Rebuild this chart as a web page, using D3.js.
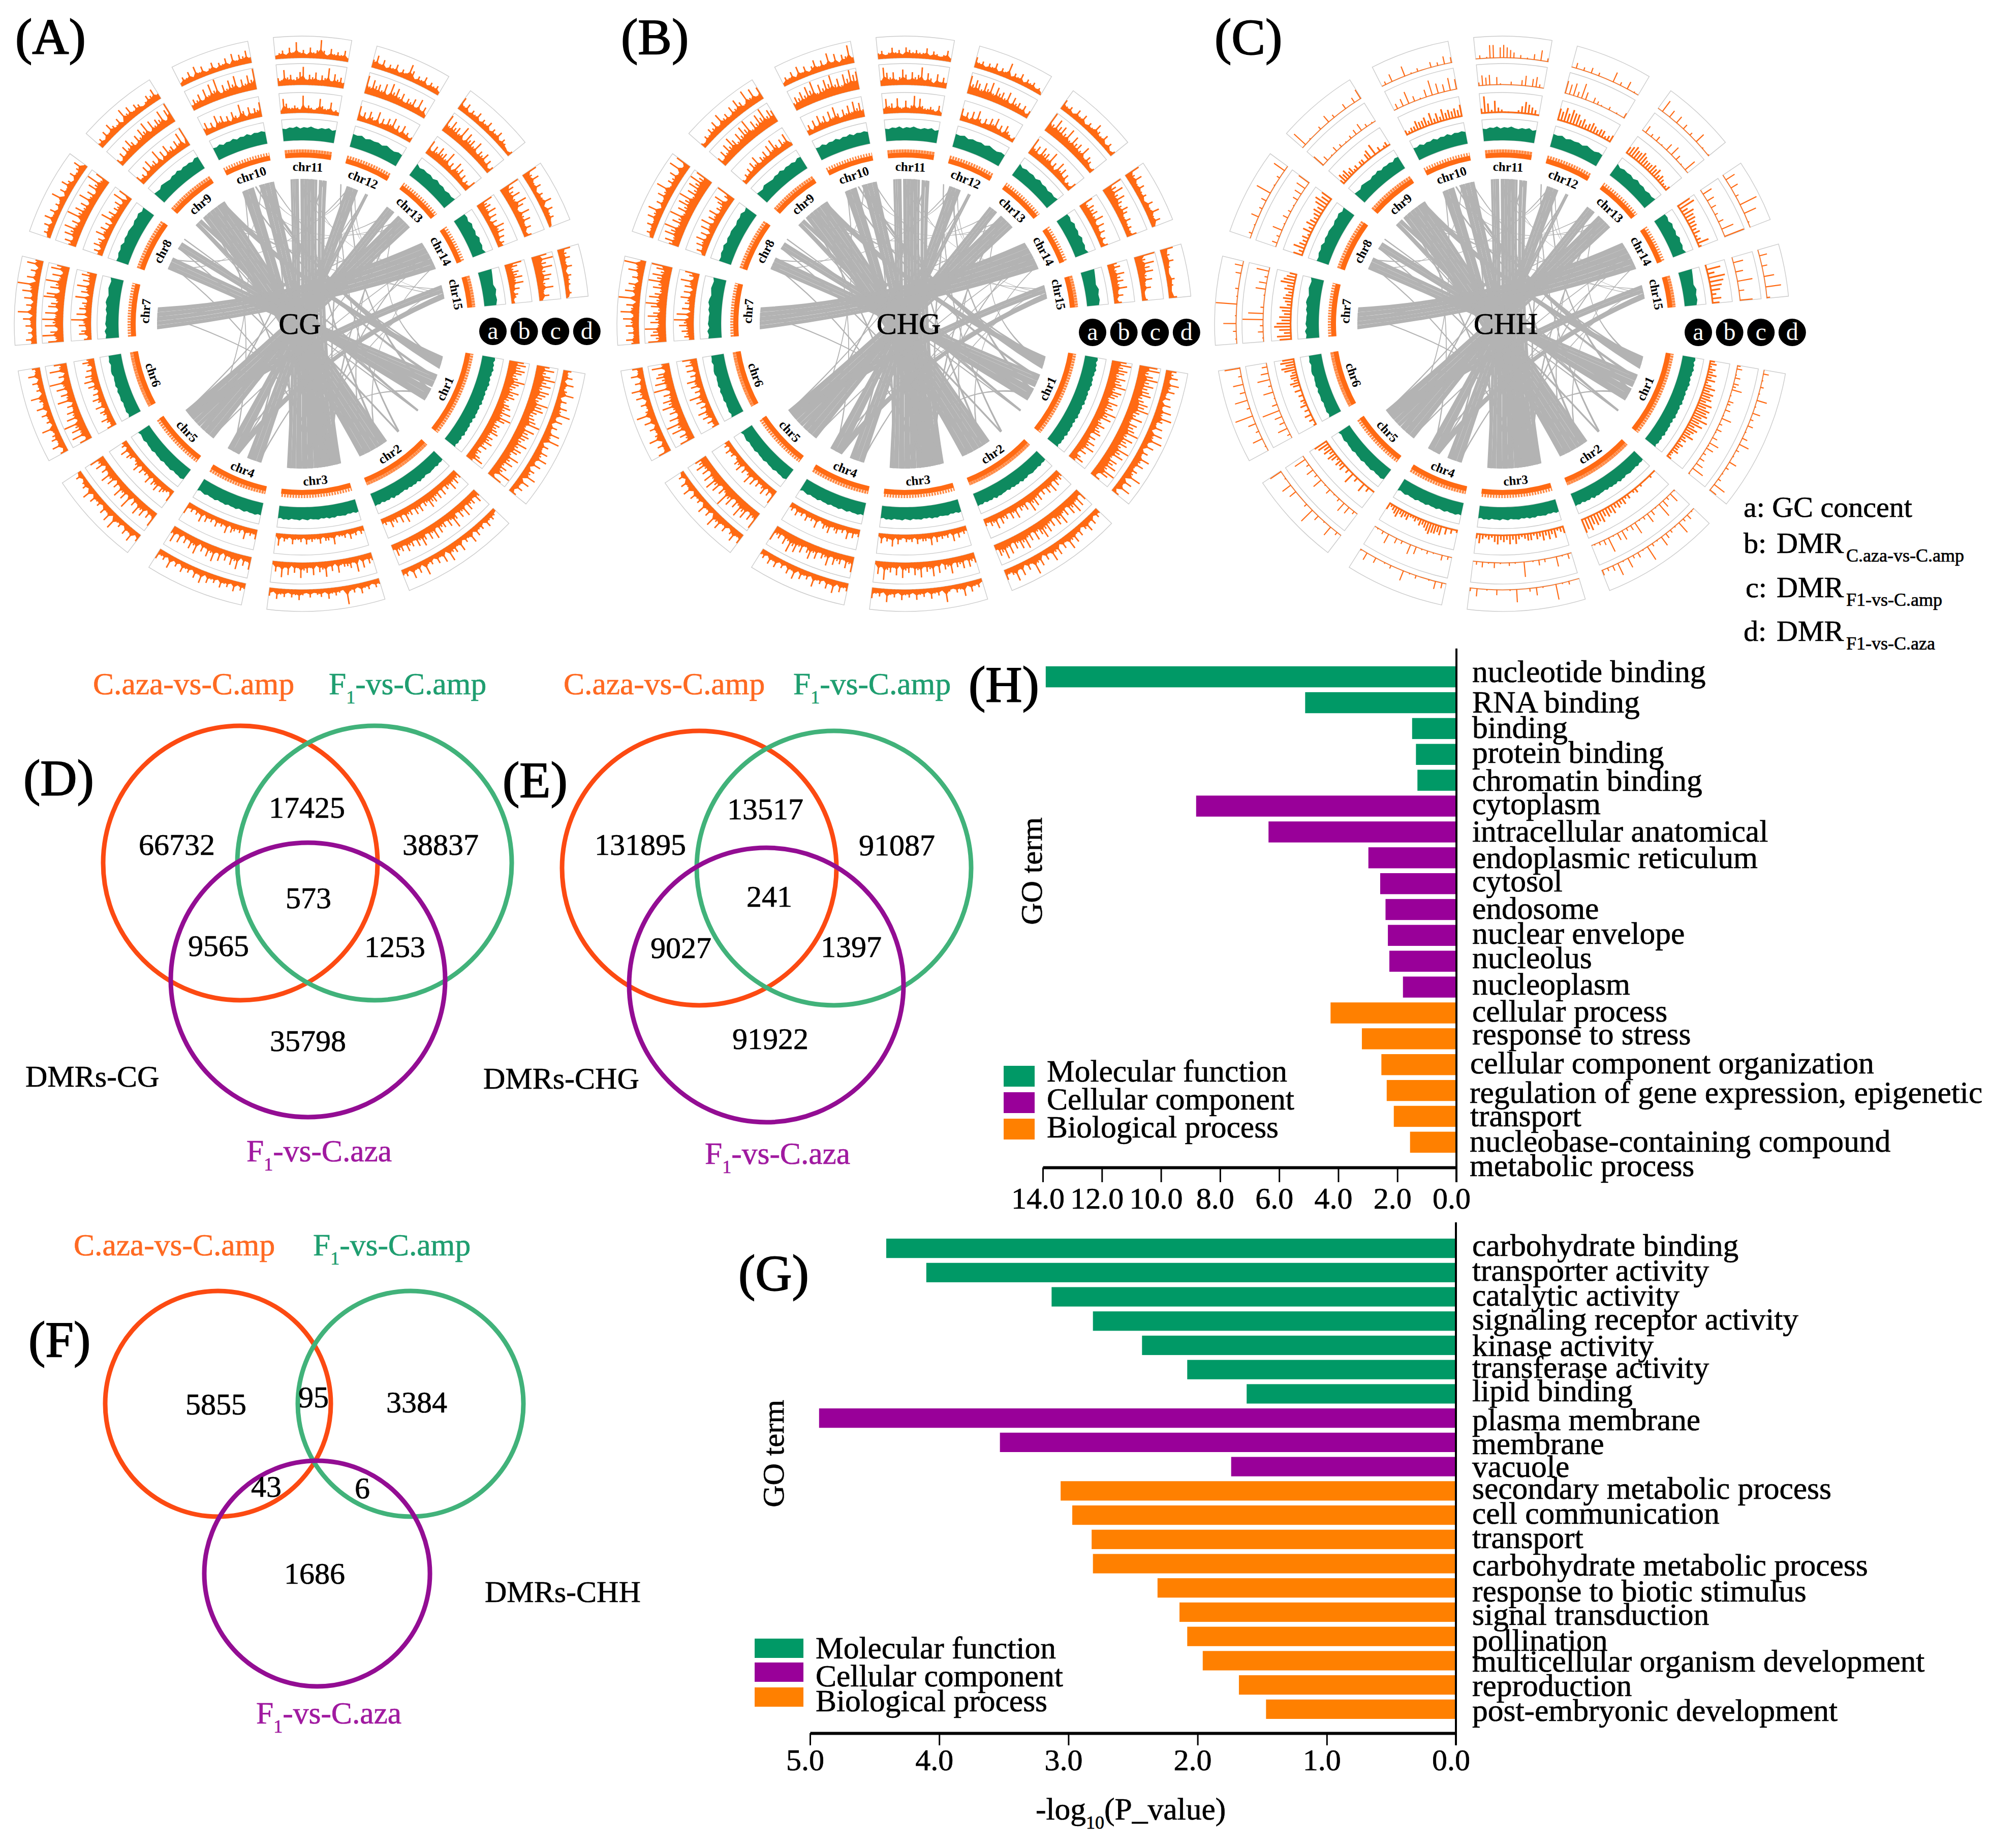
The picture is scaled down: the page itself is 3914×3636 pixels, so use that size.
<!DOCTYPE html>
<html><head><meta charset="utf-8">
<script src="https://cdn.jsdelivr.net/npm/d3@7/dist/d3.min.js"></script>
<style>html,body{margin:0;padding:0;background:#fff}svg{display:block}text{font-family:"Liberation Serif","Times New Roman",serif;fill:#000}</style>
</head><body>
<svg id="c" width="3914" height="3636" viewBox="0 0 3914 3636"></svg>
<script>
// ---------- circos data ----------
const chrNames=["chr1","chr2","chr3","chr4","chr5","chr6","chr7","chr8","chr9","chr10","chr11","chr12","chr13","chr14","chr15"];
const chrLengths=[28.8,24.1,23.8,20,19.1,19,17.9,17.5,16.6,16,15.7,15.6,15,12.7,10.6];
const gcContent=["5646575646575646565746565746465657465646","454645565465746564645565746564656","5645465546564546554654655465645","5465546546554655465546546","465546554655465546546","6465546556465546654655","657465546576456546","5465746565465746","65476546574656476","6574657465746564","5465746575465746","6574656475465","7465647564657","564756475647","76547564"];
// each digit is one window's DMR height, 0-9, clockwise along the chromosome
const dmrCG_b=["7868756976586754675859746567465746354684","5464745363646574536463547363546343","342435243326344253343524335234262","5343624345263435243526342436","623453645263435264324536243","534634526346352463746352464","4265364927364538264836475","352645274635284635463827","53426374538263745364829","4635274635264385263547","2753343283432374336232","7352643725364735263423","736475648352746352436","856473625374635243","864657473524312"];
const dmrCG_c=["6857968587659786567948676585764857465937","4635463746358463546374635746354635463","453627354436253745263547352637352","6352746352637463527463526374","735264735283647352647352647","638475937463528463749352846","7496385948376498375947386","463758463957463846375947","42536475364758374658379","3546374859364758364759","4374534683546354836453","8475647385746354637352","847564837564735463524","965748637463524","796857647352"];
const dmrCG_d=["4352634725364836253748253647362547263524","2343524352634263547263524372536243","3424352438234352432423534243524","3425243524352635243524262435","4263524372635243526243142","4263543724352634724352634","3524253628352637492635274","24352635243725364253462","3425364352746354235463","2435263523524352635463","2342537342534842534352","4635243524375243524342","635243524352435243213","746352436253421","645352433231"];
const dmrCHG_b=["7968758679587648675968457567364758463574","4546374635364758364537463546374534","343536243435263443524342352634252","4353624354364532634352435243","735264352637435264532435243","435264735264835264735263647","3546475938263547362648357","253647362748364735468359","32435364735463748536472","3526374637485364748574","3745373363483743343252","6352637425364735264313","846375648352746351325","746564736352424","564756473524"];
const dmrCHG_c=["8957968678568796584767958675968476859735","6374857364857364758647364857463748563","5463645374526374537463547263548362","7463546374536475364758463547","846375846375946375847364756","746385947364857463948576384","8576947586479586475968579","574869475947586947586968","53647586475869475869576","4657586947586957486978","3864634753645836426353","8576475847564736453524","958675847564735423","968575465353435","958674635223"];
const dmrCHG_d=["5463746352637485362748362537463548263714","3425364253647352647352648352637435","2435263423724352435243524362435","4352635243624352635242535243","5364253647253624352635142","6352743526384352647352635","4635364738462937462537493","2435364725364835463837","3243546374536475384736","2435263524635373625483","3423534254343352432352","5342435243724352434231","534253524364352413","74635342536352","645324324"];
const dmrCHH_b=["3424353524646564757675857465463424334223","1020102132132434354546565767","432535353424432353534354232353","2030415455654342322434354324","103051030603143424535467","203040304231304045344367576","6746875645634543547654","5364342535434546756","3545342303304506030230","32335445363536454546","385263211012465431","6575766453454344234","4565565444545343223","78465544342362","1748765354"];
const dmrCHH_c=["2301303250103203015020310305140203040601","1050204070103050201060302050401070302010","0301050002030100700102001030103020","0203001020104050020300502010","0204050201030105020402060","0205030408030105020604030","0103020907020001050402060","0302050103020103040506","6030103020102030402010","0304060301040705040605","2545041002003504520","6563740321020103","0402030104050301060","05040302030609","0504070306"];
const dmrCHH_d=["0301020105010402030103050201040201020604","0103020601020305010207010302050106030203","0002010700010402000601000300100402","0304010002010500020100300401","0205010307020004050106","0105020408020603050207","0102060100901020003040","0201040203070102060","0701000200402000300305","0204000501020003020403","0201660565430201030502","0302030200050204010","0604040302050101","0504020806010","0403050702"];
// syntenic links: chrA, fromA%, toA%, chrB, fromB%, toB%
const ribbonLinks=[[3,5,12,11,90,99],[3,13,20,11,80,88],[3,21,30,11,70,75],[3,31,40,11,60,69],[3,41,50,11,51,59],[3,51,60,11,43,50],[3,61,70,11,33,42],[3,71,80,11,19,28],[3,81,88,11,14,18],[3,89,95,11,8,13],
[9,34,44,2,84,93],[9,45,55,2,73,83],[9,56,66,2,63,72],[9,67,76,2,56,62],[9,77,87,2,49,55],[9,88,98,2,42,48],[9,9,18,2,17,19],[9,19,28,1,92,94],
[10,62,74,3,22,30],[10,75,86,3,14,21],[10,87,98,3,5,13],[10,16,30,3,36,45],[10,31,46,3,25,35],
[12,19,27,4,42,50],[12,28,36,4,32,41],[12,37,49,4,21,31],[12,70,73,4,82,93],[12,74,77,4,68,81],[12,2,4,2,16,18],
[13,39,50,5,70,84],[13,51,62,5,58,69],[13,63,72,5,48,57],[13,73,82,5,40,47],[13,1,8,5,27,38],[13,9,16,5,14,26],[13,17,25,5,2,13],
[14,0,18,7,50,60],[14,19,37,7,40,49],[14,38,56,7,30,39],[14,57,74,7,21,29],[14,75,92,7,12,20],
[15,6,20,5,74,84],[15,21,35,5,62,73],[15,36,57,4,68,80],
[8,20,28,1,47,55],[8,29,38,1,42,46],[8,39,48,1,37,41],[8,71,79,1,67,76],[8,80,88,1,58,66],[8,96,98,1,93,94],
[1,11,19,9,82,95],[1,20,28,10,60,65],
[1,14,16,10,50,53],[1,20,22,13,40,43],[1,40,43,10,20,23],[1,60,63,12,30,33],[1,70,72,9,50,53],[1,93,94,9,50,51],[2,16,18,12,3,4],[2,45,48,9,10,12],[2,50,53,11,35,38],[2,60,62,14,80,82],[2,75,78,8,72,74],[2,85,87,13,10,12],[3,10,13,12,22,25],[3,20,23,13,42,45],[3,32,35,8,30,32],[3,42,45,14,20,23],[3,52,55,9,40,43],[3,62,65,15,10,12],[3,72,75,1,64,66],[3,88,91,10,90,93],[4,25,27,14,50,52],[4,40,43,11,60,63],[4,70,72,13,64,66],[4,80,82,9,85,87],[4,90,92,15,40,42],[5,5,7,14,40,42],[5,20,22,10,20,22],[5,30,33,11,90,93],[5,80,82,12,75,77],[7,30,32,13,70,72],[7,45,47,2,55,57],[8,22,24,10,65,67],[8,42,44,12,25,27],[9,40,42,13,20,22],[9,60,62,14,60,62],[9,80,82,15,20,22],[10,25,27,13,50,52],[10,70,72,12,32,34],[10,90,92,15,45,47],[11,35,37,13,60,62],[11,50,52,14,75,77],[12,40,42,15,35,37],[12,25,27,14,85,87]];
const panelNames=["CG","CHG","CHH"];
const panelTracks=[[dmrCG_b,dmrCG_c,dmrCG_d],[dmrCHG_b,dmrCHG_c,dmrCHG_d],[dmrCHH_b,dmrCHH_c,dmrCHH_d]];
const trackLetters=["a","b","c","d"];
// ---------- GO data ----------
const goTermsH=["nucleotide binding","RNA binding","binding","protein binding","chromatin binding","cytoplasm","intracellular anatomical","endoplasmic reticulum","cytosol","endosome","nuclear envelope","nucleolus","nucleoplasm","cellular process","response to stress","cellular component organization","regulation of gene expression, epigenetic","transport","nucleobase-containing compound\nmetabolic process"];
const goValuesH=[13.9,5.12,1.5,1.37,1.32,8.81,6.36,2.98,2.58,2.4,2.32,2.27,1.81,4.26,3.2,2.54,2.36,2.12,1.57];
const goClassH=[0,0,0,0,0,1,1,1,1,1,1,1,1,2,2,2,2,2,2];
const goTermsG=["carbohydrate binding","transporter activity","catalytic activity","signaling receptor activity","kinase activity","transferase activity","lipid binding","plasma membrane","membrane","vacuole","secondary metabolic process","cell communication","transport","carbohydrate metabolic process","response to biotic stimulus","signal transduction","pollination","multicellular organism development","reproduction","post-embryonic development"];
const goValuesG=[4.41,4.1,3.13,2.81,2.43,2.08,1.62,4.93,3.53,1.74,3.06,2.97,2.82,2.81,2.31,2.14,2.08,1.96,1.68,1.47];
const goClassG=[0,0,0,0,0,0,0,1,1,1,2,2,2,2,2,2,2,2,2,2];
const goClassNames=["Molecular function","Cellular component","Biological process"];
const ticksH=[0,2,4,6,8,10,12,14];
const ticksG=[0,1,2,3,4,5];
// ---------- Venn data ----------
const vennD=["66732","17425","38837","573","9565","1253","35798"];
const vennE=["131895","13517","91087","241","9027","1397","91922"];
const vennF=["5855","95","3384","43","6","1686"];

// ---------- layout / styles ----------
const ORANGE="#ff6a13",GREEN="#0e8a5f",GREY="#b3b3b3",BOX="#cbcbcb";
const classColor=["#009966","#990099","#ff8000"];
const vennColors=["#fc4a12","#41b27a","#930d93"];
const vennText=["#ff6a22","#1f9e70","#a01aa0"];
const svg=d3.select("#c");
const rad=d=>d*Math.PI/180;
const RIB=285,LAB=309,RING=[327,337,343],GC=[361,403],TR=[[415,455],[470,512],[523,566]];

function label(x,y,t,fs,o={}){const f=o.fill||"#000";return svg.append("text").attr("x",x).attr("y",y).attr("font-size",fs).attr("text-anchor",o.anchor||"start").style("fill",f).attr("stroke",f).attr("stroke-width",o.sw==null?.7:o.sw).text(t);}
function subText(x,y,parts,fs,sfs,fill){
  const f=fill||"#000";
  const t=svg.append("text").attr("x",x).attr("y",y).attr("font-size",fs).style("fill",f).attr("stroke",f).attr("stroke-width",.7);
  let shift=0;
  parts.forEach(p=>{const sp=t.append("tspan").text(p[0]);
    const d=p[1]?fs*0.3:0; sp.attr("dy",d-shift); shift=d; sp.attr("font-size",p[1]?sfs:fs); if(p[2]!=null)sp.attr("x",x+p[2]);});
  return t;
}

// ---------- circos ----------
const pie=d3.pie().value(d=>d).sort(null).startAngle(rad(100)).endAngle(rad(100+349.65)).padAngle(rad(5.15));
const sectors=pie(chrLengths).map(s=>({a0:s.startAngle,a1:s.endAngle-s.padAngle}));
const arc=d3.arc();
const BEND=.5,STRIP_PAD=.45;
function bandPath(a0,a1,b0,b1){
  const p=d3.path(),pt=a=>d3.pointRadial(a,RIB),Q=Math.PI/2;
  const ctl=(u,v)=>[BEND*(u[0]+v[0])/2,BEND*(u[1]+v[1])/2];
  p.moveTo(...pt(a0)); p.arc(0,0,RIB,a0-Q,a1-Q);
  p.quadraticCurveTo(...ctl(pt(a1),pt(b0)),...pt(b0));
  p.arc(0,0,RIB,b0-Q,b1-Q);
  p.quadraticCurveTo(...ctl(pt(b1),pt(a0)),...pt(a0));
  p.closePath(); return p.toString();
}
const heightPow=d3.scalePow().exponent(1.2).domain([0,9]);

function drawCircos(cx,cy,idx,labelPos,abcdOffset,abcdY){
  const g=svg.append("g").attr("transform",`translate(${cx},${cy})`);
  const pos=i=>d3.scaleLinear([0,100],[sectors[i-1].a0,sectors[i-1].a1]);
  g.append("g").selectAll("path").data(ribbonLinks).join("path").attr("fill",GREY)
   .attr("d",l=>bandPath(pos(l[0])(l[1]-STRIP_PAD),pos(l[0])(l[2]+STRIP_PAD),pos(l[3])(l[4]-STRIP_PAD),pos(l[3])(l[5]+STRIP_PAD)));
  const sparse=idx===2;
  sectors.forEach((s,i)=>{
    const sg=g.append("g");
    sg.append("path").attr("fill",ORANGE).attr("d",arc({innerRadius:RING[0],outerRadius:RING[1],startAngle:s.a0,endAngle:s.a1}));
    const ringArc=arc({innerRadius:(RING[1]+RING[2])/2,outerRadius:(RING[1]+RING[2])/2,startAngle:s.a0,endAngle:s.a1});
    sg.append("path").attr("d",ringArc).attr("fill","none").attr("stroke",ORANGE).attr("stroke-width",RING[2]-RING[1]).attr("stroke-dasharray","2.5 3").attr("stroke-opacity",.8);
    const box=(r)=>sg.append("path").attr("fill","none").attr("stroke",BOX).attr("stroke-width",1.4).attr("d",arc({innerRadius:r[0],outerRadius:r[1],startAngle:s.a0,endAngle:s.a1}));
    box(GC);
    const gcVals=Array.from(gcContent[i],Number);
    const gcA=d3.scaleLinear([0,gcVals.length-1],[s.a0,s.a1]);
    const gcR=d3.scaleLinear([0,9],[GC[0]+18,GC[0]+30]);
    sg.append("path").attr("fill",GREEN).attr("d",d3.areaRadial().curve(d3.curveLinear).angle((v,j)=>gcA(j)).innerRadius(GC[0]).outerRadius(v=>gcR(v))(gcVals));
    panelTracks[idx].forEach((tr,k)=>{
      const r=TR[k]; box(r);
      const vals=Array.from(tr[i],Number);
      const ang=d3.scaleLinear([0,vals.length-1],[s.a0+0.003,s.a1-0.003]);
      const rs=heightPow.copy().range([r[0],r[1]-1]);
      if(sparse){
        sg.append("path").attr("fill",ORANGE).attr("d",arc({innerRadius:r[0],outerRadius:r[0]+(k===0?3:1.5),startAngle:s.a0,endAngle:s.a1}));
      } else {
        const low=heightPow.copy().range([r[0]+4,r[0]+(r[1]-r[0])*.5]);
        sg.append("path").attr("fill",ORANGE).attr("d",d3.areaRadial().curve(d3.curveLinear).angle((v,j)=>ang(j)).innerRadius(r[0]).outerRadius(v=>low(v))(vals));
      }
      sg.append("g").attr("stroke",ORANGE).attr("stroke-width",sparse?(k===0?3.2:2.2):2.8).selectAll("line").data(vals.map((v,j)=>[v,j]).filter(d=>d[0]>0)).join("line")
        .attr("x1",d=>d3.pointRadial(ang(d[1]),r[0])[0]).attr("y1",d=>d3.pointRadial(ang(d[1]),r[0])[1])
        .attr("x2",d=>d3.pointRadial(ang(d[1]),rs(d[0]))[0]).attr("y2",d=>d3.pointRadial(ang(d[1]),rs(d[0]))[1]);
    });
    const mid=(s.a0+s.a1)/2; const [lx,ly]=d3.pointRadial(mid,LAB);
    let rot=mid*180/Math.PI%360; rot=(rot>90&&rot<270)?rot-180:rot;
    sg.append("text").attr("transform",`translate(${lx},${ly}) rotate(${rot})`).attr("text-anchor","middle").attr("dy","0.35em").attr("font-size",25).attr("font-weight","bold").text(chrNames[i]);
  });
  g.append("text").attr("x",labelPos).attr("y",20).attr("text-anchor","middle").attr("font-size",60).attr("stroke","#000").attr("stroke-width",.7).text(panelNames[idx]);
  trackLetters.forEach((t,i)=>{
    const x=abcdOffset+i*61.6;
    g.append("circle").attr("cx",x).attr("cy",abcdY).attr("r",27).attr("fill","#000");
    g.append("text").attr("x",x).attr("y",abcdY+15).attr("text-anchor","middle").attr("font-size",48).style("fill","#fff").text(t);
  });
}
drawCircos(594,637,0,-4,376,15);
drawCircos(1780,637,1,8,370,17);
drawCircos(2956,637,2,7,386,17);

[["(A)",30,106],["(B)",1222,106],["(C)",2390,106],["(D)",46,1564],["(E)",989,1568],["(F)",56,2669],["(G)",1453,2538],["(H)",1906,1380]]
 .forEach(d=>label(d[1],d[2],d[0],100,{sw:1.8}));

label(3431,1017,"a: GC concent",58);
[["b: ","C.aza-vs-C.amp",1088,3431],["c: ","F1-vs-C.amp",1175,3435],["d: ","F1-vs-C.aza",1261,3431]].forEach(d=>{
  label(d[3],d[2],d[0],58);
  subText(3496,d[2],[["DMR",false,0],[d[1],true,137]],58,36);
});

// ---------- Venn ----------
function venn(circles,r,vals,pos){
  circles.forEach((c,i)=>svg.append("circle").attr("cx",c[0]).attr("cy",c[1]).attr("r",r).attr("fill","none").attr("stroke",vennColors[i]).attr("stroke-width",9));
  vals.forEach((v,i)=>label(pos[i][0],pos[i][1],v,60,{anchor:"middle"}));
}
venn([[473,1698],[737,1698],[606,1928]],270,vennD,[[348,1682],[604,1609],[867,1682],[607,1787],[430,1881],[777,1883],[606,2068]]);
venn([[1376,1708],[1641,1708],[1508,1938]],270,vennE,[[1260,1682],[1506,1612],[1765,1683],[1514,1784],[1340,1885],[1675,1883],[1516,2064]]);
venn([[429,2762],[808,2762],[624,3096]],222,vennF,[[425,2783],[617,2769],[820,2779],[524,2945],[713,2948],[619,3116]]);
function sets(a,b,c,ya,yc){
  label(a,ya,"C.aza-vs-C.amp",61.5,{fill:vennText[0]});
  subText(b,ya,[["F"],["1",true],["-vs-C.amp"]],61.5,36,vennText[1]);
  subText(c,yc,[["F"],["1",true],["-vs-C.aza"]],61.5,36,vennText[2]);
}
sets(183,647,485,1366,2285); sets(1109,1561,1387,1366,2290); sets(145,616,504,2470,3391);
label(50,2138,"DMRs-CG",60); label(951,2142,"DMRs-CHG",60); label(954,3152,"DMRs-CHH",60);

// ---------- GO bars ----------
function goChart(o){
  const x=d3.scaleLinear().domain([0,o.max]).range([o.x0,o.x1]);
  const y=d3.scaleBand().domain(o.terms).range([o.top,o.bottom]).paddingInner(o.pad).paddingOuter(0);
  svg.append("g").selectAll("rect").data(o.terms).join("rect")
    .attr("x",(d,i)=>x(o.values[i])).attr("y",d=>y(d)).attr("width",(d,i)=>x(0)-x(o.values[i])).attr("height",y.bandwidth())
    .attr("fill",(d,i)=>classColor[o.cls[i]]);
  o.terms.forEach((t,i)=>{
    const yb=y(t)+y.bandwidth()/2+o.nudge[i]+4;
    t.split("\n").forEach((ln,j)=>label(2897+(o.xn?o.xn[i]:0),yb+j*48,ln,61.5));
  });
  const ax=svg.append("g").attr("transform",`translate(0,${o.axisY})`).call(d3.axisBottom(x).tickValues(o.ticks).tickFormat(d3.format(".1f")).tickSize(o.tick).tickSizeOuter(0));
  ax.select(".domain").attr("stroke","#000").attr("stroke-width",6);
  ax.selectAll(".tick line").attr("stroke","#000").attr("stroke-width",3);
  ax.selectAll(".tick text").attr("y",o.labY-o.axisY).attr("dy",0).attr("dx",-10).attr("font-size",60).attr("font-family",'"Liberation Serif"').style("fill","#000").attr("stroke","#000").attr("stroke-width",.7);
  svg.append("line").attr("x1",o.x0).attr("x2",o.x0).attr("y1",o.lineTop).attr("y2",o.axisY+o.tick).attr("stroke","#000").attr("stroke-width",4);
  goClassNames.forEach((n,i)=>{
    svg.append("rect").attr("x",o.leg.x).attr("y",o.leg.y[i]).attr("width",o.leg.w).attr("height",o.leg.h).attr("fill",classColor[i]);
    label(o.leg.tx,o.leg.ty[i],n,61.5);
  });
  svg.append("text").attr("transform",`translate(${o.go[0]},${o.go[1]}) rotate(-90)`).attr("text-anchor","middle").attr("font-size",60).attr("stroke","#000").attr("stroke-width",.7).text("GO term");
}
goChart({terms:goTermsH,values:goValuesH,cls:goClassH,max:14,x0:2866,x1:2052,top:1311,bottom:2268,pad:.187,
  nudge:[6,15,15,13,17,12,15,16,11,14,13,10,11,13,7,13,20,16,15],xn:[0,0,0,0,0,0,0,0,0,0,0,0,0,0,0,-4,-5,-4,-5],
  axisY:2297,tick:29,labY:2378,ticks:ticksH,lineTop:1276,
  leg:{x:1975,y:[2097,2149,2201],w:61,h:41,tx:2060,ty:[2128,2183,2238]},go:[2050,1714]});
goChart({terms:goTermsG,values:goValuesG,cls:goClassG,max:5,x0:2865,x1:1594,top:2437,bottom:3382,pad:.2,
  nudge:[11,12,13,13,17,12,11,20,19,16,12,13,13,19,23,21,24,18,18,19],
  axisY:3410,tick:24,labY:3483,ticks:ticksG,lineTop:2405,
  leg:{x:1485,y:[3224,3271,3320],w:96,h:38,tx:1605,ty:[3263,3318,3367]},go:[1542,2860]});
subText(2038,3580,[["-log"],["10",true],["(P_value)"]],61.5,36);
</script>
</body></html>
